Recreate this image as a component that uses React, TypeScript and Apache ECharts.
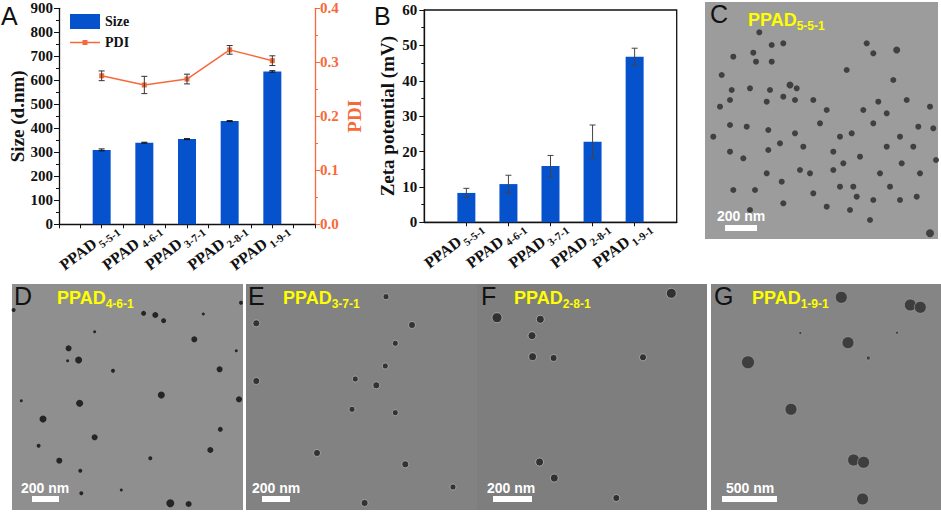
import React, { useEffect, useRef } from 'react';
import * as echarts from 'echarts';

// ---------- data ----------
const categories = ['5-5-1', '4-6-1', '3-7-1', '2-8-1', '1-9-1'];
const sizeValues = [310, 340, 355, 430, 637];
const sizeErrors = [4, 2, 2, 2, 3];
const pdiValues = [0.275, 0.258, 0.269, 0.323, 0.303];
const pdiErrors = [0.009, 0.016, 0.009, 0.008, 0.009];
const zetaValues = [8.3, 10.8, 15.9, 22.8, 46.8];
const zetaErrors = [1.3, 2.5, 3.0, 4.7, 2.4];
const sizeAxisRange = [0, 900, 100];
const pdiAxisRange = [0, 0.4, 0.1];
const zetaAxisRange = [0, 60, 10];

// particle positions in each TEM panel: [x, y, radius] (panel pixels)
const temC = [
  [54.3, 30.3, 3], [66.7, 43, 3], [48.3, 50.7, 3], [66.7, 59.7, 3], [51, 59.7, 3], [28.3, 54.7, 3],
  [141.7, 68, 3], [191.7, 48, 3.5], [161.7, 41.3, 3], [78.3, 41.3, 3], [168.3, 51.3, 3], [16.7, 73, 3],
  [45, 86.3, 3], [26.7, 88, 3], [65, 88, 3], [85, 83, 3.5], [91.7, 86.3, 3], [188.3, 78, 3],
  [201.7, 98, 3], [225, 104.7, 3], [173.3, 99.7, 3], [158.3, 108, 3], [78.3, 94.7, 3], [90, 98, 3],
  [61.7, 99.7, 3], [25, 98, 3], [25, 123, 3], [8.3, 134.7, 3], [41.7, 124.7, 3], [63.3, 128, 3],
  [75, 141.3, 3], [90, 131.3, 3], [115, 121.3, 3], [128.3, 149.7, 3], [135, 134.7, 3], [146.7, 131.3, 3],
  [168.3, 121.3, 3], [181.7, 111.3, 3], [195, 134.7, 3], [213.3, 124.7, 3], [228.3, 126.3, 3], [181.7, 144.7, 3],
  [208.3, 144.7, 3], [38.3, 156.3, 3], [25, 149.7, 3], [63.3, 148, 3], [105, 171.3, 3], [138.3, 161.3, 3],
  [155, 154.7, 3], [175, 171.3, 3], [196.7, 161.3, 3], [215, 171.3, 3], [76.7, 179.7, 3], [95, 168, 3],
  [50, 188, 3], [28.3, 188, 3], [61.7, 171.3, 3], [135, 184.7, 3], [151.7, 194.7, 3], [168.3, 198, 3],
  [195, 198, 3], [211.7, 194.7, 3], [145, 208, 3], [121.7, 204.7, 3], [78.3, 201.3, 3], [108.3, 191.3, 3],
  [185, 184.7, 3], [225, 231.3, 4], [165, 218, 3], [45, 208, 3], [231, 158, 3], [15, 104.7, 3],
  [128.3, 168, 3], [98.3, 144.7, 3], [121.7, 108, 3], [108.3, 98, 3], [148.3, 184.7, 3],
];
const temD = [
  [1.6, 26, 2], [131.6, 29.3, 2.5], [143.3, 31, 3], [151.6, 36.7, 2.5], [191.3, 30, 1.5], [229, 18.7, 2],
  [82.6, 47.7, 1.5], [182.3, 55.3, 3], [56.6, 64.3, 3], [224.3, 66.7, 1.5], [66.6, 76, 3.5], [55.6, 76.7, 1.5],
  [207.6, 85.3, 3], [101, 86.7, 2], [149.3, 111, 3.5], [227, 115.3, 3], [67.6, 119.3, 3.5], [9.3, 116.7, 1.5],
  [31, 135, 3.5], [208.3, 145.3, 2.5], [82.6, 153.3, 3], [26.6, 161.7, 2], [198.3, 166, 3], [138.3, 174.3, 2],
  [47.3, 176.7, 3], [68.3, 186.7, 2], [69.3, 209.3, 2], [109.3, 206, 1.5], [158.3, 219.3, 4], [176.6, 220, 3],
];
const temE = [
  [10.3, 39.3, 3.5], [140, 12.7, 3], [166, 41, 3.5], [149.3, 59.3, 3], [139.3, 82, 3], [10.3, 97, 3.5],
  [109.3, 95, 3], [130.3, 101.3, 3.5], [106, 125.3, 3], [149.3, 128.7, 3], [71, 169, 3.5], [159.3, 180.3, 3.5],
  [207, 203, 3], [118.6, 219, 3.5],
];
const temF = [
  [20, 33.7, 5], [63.3, 35.3, 4], [55, 51.7, 4], [55.6, 72.7, 4], [76.6, 74, 3.5], [166, 73.3, 3.5],
  [194.3, 9.3, 5], [62.6, 178, 4], [77.3, 194, 4], [139.3, 214, 3.5],
];
const temG = [
  [130.3, 13.3, 6], [199.3, 21, 6], [209.3, 23.3, 6], [137, 58.7, 6], [37, 78.3, 6.5], [80, 125.3, 6],
  [142.6, 176, 6], [152.6, 178.3, 6], [151.6, 215, 6], [157.3, 74, 2], [89.3, 49, 1.5], [186, 48.7, 1.5],
];

// ---------- styles ----------
const SERIF = '"Liberation Serif", "Times New Roman", serif';
const SANS = '"Liberation Sans", Arial, sans-serif';
const BLUE = '#0652cc';
const ORANGE = '#f8693a';
const INK = '#111111';

const labelRich = {
  a: { fontFamily: SERIF, fontWeight: 'bold', fontSize: 16, color: INK, lineHeight: 20 },
  b: { fontFamily: SERIF, fontWeight: 'bold', fontSize: 11, color: INK, lineHeight: 11, padding: [12, 0, 0, 2] },
};
const catFormatter = (v: string) => (v.startsWith('_') ? '' : `{a|PPAD}{b|${v}}`);

// A: 13 half-step slots, bars on slots 2,4,...,10
const slotsA = Array.from({ length: 13 }, (_, i) =>
  i % 2 === 0 && i >= 2 && i <= 10 ? categories[i / 2 - 1] : `_${i}`
);
const padA = (vals: number[]) =>
  slotsA.map((_, i) => (i % 2 === 0 && i >= 2 && i <= 10 ? vals[i / 2 - 1] : '-'));
const slotsB = ['_0', ...categories, '_6'];

const errData = (vals: number[], errs: number[], idx: (k: number) => number) =>
  vals.map((v, k) => [idx(k), v - errs[k], v + errs[k]]);

const errRender = (color: string, cap: number) => (params: any, api: any) => {
  const x = api.value(0);
  const top = api.coord([x, api.value(2)]);
  const bot = api.coord([x, api.value(1)]);
  const st = { stroke: color, lineWidth: 1 };
  return {
    type: 'group',
    children: [
      { type: 'line', shape: { x1: top[0], y1: top[1], x2: bot[0], y2: bot[1] }, style: st },
      { type: 'line', shape: { x1: top[0] - cap, y1: top[1], x2: top[0] + cap, y2: top[1] }, style: st },
      { type: 'line', shape: { x1: bot[0] - cap, y1: bot[1], x2: bot[0] + cap, y2: bot[1] }, style: st },
    ],
  };
};

const temPanels = [
  { rect: [705, 2, 233, 237], data: temC, bg: '#9c9c9c', dot: '#383838', ring: 'rgba(0,0,0,0)' },
  { rect: [12, 284, 231, 226], data: temD, bg: '#8f8f8f', dot: '#1c1c1c', ring: 'rgba(0,0,0,0)' },
  { rect: [246, 284, 231, 226], data: temE, bg: '#828282', dot: '#2c2c2c', ring: '#b4b4b4' },
  { rect: [477, 284, 230, 226], data: temF, bg: '#7e7e7e', dot: '#2a2a2a', ring: '#b8b8b8' },
  { rect: [711, 284, 230, 226], data: temG, bg: '#858585', dot: '#383838', ring: '#9a9a9a' },
];
const temTitles = [
  { sub: '5-5-1', x: 748, y: 8.5 },
  { sub: '4-6-1', x: 57, y: 286.5 },
  { sub: '3-7-1', x: 283, y: 286.5 },
  { sub: '2-8-1', x: 514, y: 286.5 },
  { sub: '1-9-1', x: 752, y: 286.5 },
];
const scaleBars = [
  { text: '200 nm', tx: 717, ty: 215.5, bar: [725, 225, 32, 6] },
  { text: '200 nm', tx: 21, ty: 487.5, bar: [32, 496, 27, 6] },
  { text: '200 nm', tx: 252, ty: 487.5, bar: [262, 496, 28, 6] },
  { text: '200 nm', tx: 487, ty: 487.5, bar: [493, 496, 39, 6] },
  { text: '500 nm', tx: 726, ty: 487.5, bar: [722, 496, 55, 6] },
];
const letters = [
  { t: 'A', x: 1, y: 3 }, { t: 'B', x: 374, y: 3 }, { t: 'C', x: 710, y: 1 },
  { t: 'D', x: 14, y: 283 }, { t: 'E', x: 248, y: 283 }, { t: 'F', x: 481, y: 283 }, { t: 'G', x: 714, y: 283 },
];

const PDI_ICON =
  'path://M0,0 L0.01,0 L0,0.01 Z M0,6.75 L30,6.75 L30,8.25 L0,8.25 Z M12.5,5 L17.5,5 L17.5,10 L12.5,10 Z M30,15 L29.99,15 L30,14.99 Z';

function buildOption() {
  const grids: any[] = [
    { left: 59, top: 8.3, width: 256, height: 216 },
    { left: 424.3, top: 10, width: 252.4, height: 212.3, show: true, borderColor: INK, borderWidth: 1.3, backgroundColor: 'transparent' },
    ...temPanels.map((p) => ({
      left: p.rect[0], top: p.rect[1], width: p.rect[2], height: p.rect[3],
      show: true, backgroundColor: p.bg, borderWidth: 0,
    })),
  ];

  const axisLine = (c: string) => ({ show: true, lineStyle: { color: c, width: 1.3 } });
  const valLabel = (c: string) => ({ fontFamily: SERIF, fontWeight: 'bold', fontSize: 15, color: c });
  const catLabel = {
    interval: 0, rotate: 37, margin: 12,
    formatter: catFormatter, rich: labelRich, padding: [0, -17, 0, 0],
  };

  const xAxes: any[] = [
    {
      gridIndex: 0, type: 'category', data: slotsA, boundaryGap: false,
      axisLine: axisLine(INK),
      axisTick: { show: true, interval: 0, length: 4, lineStyle: { color: INK } },
      axisLabel: catLabel,
    },
    {
      gridIndex: 1, type: 'category', data: slotsB, boundaryGap: false,
      axisLine: axisLine(INK),
      axisTick: { show: true, interval: (i: number) => i >= 1 && i <= 5, length: 4, lineStyle: { color: INK } },
      axisLabel: catLabel,
    },
    ...temPanels.map((p, k) => ({ gridIndex: k + 2, type: 'value', min: 0, max: p.rect[2], show: false })),
  ];

  const yAxes: any[] = [
    {
      gridIndex: 0, type: 'value', min: sizeAxisRange[0], max: sizeAxisRange[1], interval: sizeAxisRange[2],
      name: 'Size (d.nm)', nameLocation: 'middle', nameGap: 27, nameRotate: 90,
      nameTextStyle: { fontFamily: SERIF, fontWeight: 'bold', fontSize: 19, color: INK },
      axisLine: axisLine(INK),
      axisTick: { show: true, length: 5, lineStyle: { color: INK } },
      minorTick: { show: true, splitNumber: 2, length: 3, lineStyle: { color: INK } },
      splitLine: { show: false },
      axisLabel: { ...valLabel(INK), margin: 6 },
    },
    {
      gridIndex: 0, type: 'value', position: 'right', min: pdiAxisRange[0], max: pdiAxisRange[1], interval: pdiAxisRange[2],
      name: 'PDI', nameLocation: 'middle', nameGap: 30, nameRotate: 90,
      nameTextStyle: { fontFamily: SERIF, fontWeight: 'bold', fontSize: 19, color: ORANGE },
      axisLine: axisLine(ORANGE),
      axisTick: { show: true, length: 5, lineStyle: { color: ORANGE } },
      minorTick: { show: true, splitNumber: 2, length: 3, lineStyle: { color: ORANGE } },
      splitLine: { show: false },
      axisLabel: { ...valLabel(ORANGE), margin: 5, formatter: (v: number) => v.toFixed(1) },
    },
    {
      gridIndex: 1, type: 'value', min: zetaAxisRange[0], max: zetaAxisRange[1], interval: zetaAxisRange[2],
      name: 'Zeta potential (mV)', nameLocation: 'middle', nameGap: 27, nameRotate: 90,
      nameTextStyle: { fontFamily: SERIF, fontWeight: 'bold', fontSize: 19, color: INK },
      axisLine: axisLine(INK),
      axisTick: { show: true, length: 5, lineStyle: { color: INK } },
      minorTick: { show: true, splitNumber: 2, length: 3, lineStyle: { color: INK } },
      splitLine: { show: false },
      axisLabel: { ...valLabel(INK), margin: 7 },
    },
    ...temPanels.map((p, k) => ({ gridIndex: k + 2, type: 'value', min: 0, max: p.rect[3], inverse: true, show: false })),
  ];

  const series: any[] = [
    {
      name: 'Size', type: 'bar', xAxisIndex: 0, yAxisIndex: 0, data: padA(sizeValues),
      barWidth: 18, itemStyle: { color: BLUE },
    },
    {
      name: 'PDI', type: 'line', xAxisIndex: 0, yAxisIndex: 1, data: padA(pdiValues), connectNulls: true,
      symbol: 'rect', symbolSize: 5, lineStyle: { color: ORANGE, width: 1.5 }, itemStyle: { color: ORANGE }, z: 3,
    },
    {
      type: 'custom', xAxisIndex: 0, yAxisIndex: 0, renderItem: errRender('#111', 3), z: 5,
      data: errData(sizeValues, sizeErrors, (k) => 2 * k + 2), encode: { x: 0, y: [1, 2] },
    },
    {
      type: 'custom', xAxisIndex: 0, yAxisIndex: 1, renderItem: errRender('#333', 3), z: 5,
      data: errData(pdiValues, pdiErrors, (k) => 2 * k + 2), encode: { x: 0, y: [1, 2] },
    },
    {
      name: 'Zeta', type: 'bar', xAxisIndex: 1, yAxisIndex: 2, data: ['-', ...zetaValues, '-'],
      barWidth: 18, itemStyle: { color: BLUE },
    },
    {
      type: 'custom', xAxisIndex: 1, yAxisIndex: 2, renderItem: errRender('#444', 3), z: 5,
      data: errData(zetaValues, zetaErrors, (k) => k + 1), encode: { x: 0, y: [1, 2] },
    },
    ...temPanels.map((p, k) => ({
      type: 'scatter', xAxisIndex: k + 2, yAxisIndex: k + 3, data: p.data,
      symbolSize: (v: number[]) => v[2] * 2,
      itemStyle: { color: p.dot, borderColor: p.ring, borderWidth: 0.8, opacity: 0.92 },
      silent: true,
    })),
  ];

  const graphic: any[] = [
    ...letters.map((l) => ({
      type: 'text', x: l.x, y: l.y, z: 100,
      style: { text: l.t, fontFamily: SANS, fontSize: 25, fill: INK, verticalAlign: 'top' },
    })),
    ...temTitles.map((t) => ({
      type: 'text', x: t.x, y: t.y, z: 100,
      style: {
        text: `{a|PPAD}{b|${t.sub}}`, verticalAlign: 'top',
        rich: {
          a: { fontFamily: SANS, fontWeight: 'bold', fontSize: 18, fill: '#ffff00', lineHeight: 23 },
          b: { fontFamily: SANS, fontWeight: 'bold', fontSize: 12, fill: '#ffff00', lineHeight: 12, padding: [11, 0, 0, 0] },
        },
      },
    })),
    ...scaleBars.flatMap((s) => [
      {
        type: 'text', x: s.tx, y: s.ty, z: 100,
        style: { text: s.text, fontFamily: SANS, fontWeight: 'bold', fontSize: 14, fill: '#ffffff', verticalAlign: 'middle' },
      },
      {
        type: 'rect', z: 100,
        shape: { x: s.bar[0], y: s.bar[1], width: s.bar[2], height: s.bar[3] },
        style: { fill: '#ffffff' },
      },
    ]),
  ];

  return {
    animation: false,
    backgroundColor: '#ffffff',
    grid: grids,
    xAxis: xAxes,
    yAxis: yAxes,
    legend: {
      data: [{ name: 'Size', icon: 'rect' }, { name: 'PDI', icon: PDI_ICON }],
      orient: 'vertical', left: 70, top: 14, padding: 0, itemWidth: 30, itemHeight: 15, itemGap: 6,
      textStyle: { fontFamily: SERIF, fontWeight: 'bold', fontSize: 14, color: INK },
    },
    series,
    graphic,
  };
}

export default function App() {
  const ref = useRef<HTMLDivElement>(null);
  useEffect(() => {
    document.body.style.margin = '0';
    const chart = echarts.init(ref.current!, null, { renderer: 'svg' });
    chart.setOption(buildOption() as any);
    return () => chart.dispose();
  }, []);
  return <div ref={ref} style={{ width: 941, height: 513 }} />;
}
